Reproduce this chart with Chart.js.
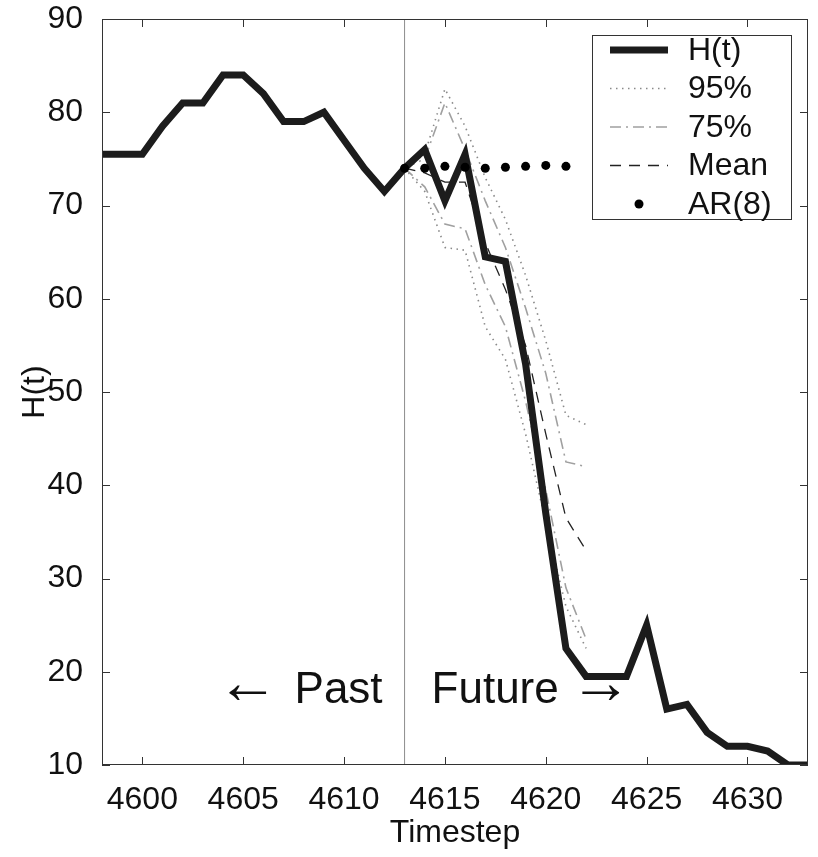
<!DOCTYPE html>
<html>
<head>
<meta charset="utf-8">
<script src="https://cdn.jsdelivr.net/npm/chart.js@4.4.0/dist/chart.umd.min.js"></script>
<style>
  html, body { margin: 0; padding: 0; background: #fff; }
</style>
</head>
<body>
<canvas id="chart" width="818" height="857"></canvas>
<script>
// observed series
const steps = [4598, 4599, 4600, 4601, 4602, 4603, 4604, 4605, 4606, 4607, 4608, 4609,
  4610, 4611, 4612, 4613, 4614, 4615, 4616, 4617, 4618, 4619, 4620, 4621, 4622, 4623,
  4624, 4625, 4626, 4627, 4628, 4629, 4630, 4631, 4632, 4633];
const hValues = [75.5, 75.5, 75.5, 78.5, 81, 81, 84, 84, 82, 79, 79, 80,
  77, 74, 71.5, 74, 76, 70.5, 75.5, 64.5, 64, 53, 37, 22.5, 19.5, 19.5,
  19.5, 25, 16, 16.5, 13.5, 12, 12, 11.5, 10, 10];

// forecasts from t = 4613
const forecastSteps = [4613, 4614, 4615, 4616, 4617, 4618, 4619, 4620, 4621, 4622];
const upper95 = [74, 75.5, 82.5, 78.5, 73, 68.5, 62.5, 55.5, 47.5, 46.5];
const upper75 = [74, 75, 81, 76, 70.5, 65.5, 59, 52, 42.5, 42];
const meanValues = [74, 73.5, 72.5, 72.5, 66, 61, 55, 45.5, 36.5, 33];
const lower75 = [74, 72, 68, 67.5, 61.5, 57, 49, 39.5, 29, 23.5];
const lower95 = [74, 71.5, 65.5, 65.2, 57, 53.5, 45.5, 36, 27, 22.5];

const arSteps = [4613, 4614, 4615, 4616, 4617, 4618, 4619, 4620, 4621];
const arValues = [74, 74, 74.2, 74.1, 74, 74.1, 74.2, 74.3, 74.2];

const nowStep = 4613;
const xTickValues = [4600, 4605, 4610, 4615, 4620, 4625, 4630];
const yTickValues = [10, 20, 30, 40, 50, 60, 70, 80, 90];

const FONT = '"Liberation Sans", Arial, Helvetica, sans-serif';

const pts = (xs, ys) => xs.map((x, i) => ({ x: x, y: ys[i] }));

const lineDefaults = { pointRadius: 0, fill: false, tension: 0 };

const datasets = [
  { label: 'AR(8)', data: pts(arSteps, arValues), showLine: false,
    pointRadius: 4.5, pointBackgroundColor: '#000', pointBorderWidth: 0, borderColor: '#000' },
  { ...lineDefaults, label: 'H(t)', data: pts(steps, hValues),
    borderColor: '#1c1c1c', borderWidth: 7 },
  { ...lineDefaults, label: 'Mean', data: pts(forecastSteps, meanValues),
    borderColor: '#222', borderWidth: 1.3, borderDash: [11, 8] },
  { ...lineDefaults, label: '75%', data: pts(forecastSteps, upper75),
    borderColor: '#a0a0a0', borderWidth: 1.6, borderDash: [11, 5, 2, 5] },
  { ...lineDefaults, label: '75% lo', data: pts(forecastSteps, lower75),
    borderColor: '#a0a0a0', borderWidth: 1.6, borderDash: [11, 5, 2, 5] },
  { ...lineDefaults, label: '95%', data: pts(forecastSteps, upper95),
    borderColor: '#8a8a8a', borderWidth: 1.6, borderDash: [1.5, 4.5] },
  { ...lineDefaults, label: '95% lo', data: pts(forecastSteps, lower95),
    borderColor: '#8a8a8a', borderWidth: 1.6, borderDash: [1.5, 4.5] },
  { ...lineDefaults, label: 'now', data: pts([nowStep, nowStep], [yTickValues[0], yTickValues[yTickValues.length - 1]]),
    borderColor: '#8c8c8c', borderWidth: 1 }
];

const legendOrder = ['H(t)', '95%', '75%', 'Mean', 'AR(8)'];

// box, inward ticks and the Past / Future note
const framePlugin = {
  id: 'frame',
  afterDatasetsDraw(chart) {
    const { ctx, chartArea: a, scales: { x, y } } = chart;
    ctx.save();
    ctx.strokeStyle = '#333';
    ctx.lineWidth = 1;
    ctx.strokeRect(a.left + 0.5, a.top + 0.5, a.right - a.left - 1, a.bottom - a.top - 1);
    ctx.beginPath();
    xTickValues.forEach(v => {
      const px = Math.round(x.getPixelForValue(v)) + 0.5;
      ctx.moveTo(px, a.bottom); ctx.lineTo(px, a.bottom - 8);
      ctx.moveTo(px, a.top); ctx.lineTo(px, a.top + 8);
    });
    yTickValues.forEach(v => {
      const py = Math.round(y.getPixelForValue(v)) + 0.5;
      ctx.moveTo(a.left, py); ctx.lineTo(a.left + 8, py);
      ctx.moveTo(a.right, py); ctx.lineTo(a.right - 8, py);
    });
    ctx.stroke();

    // Past / Future note; arrows set larger so they come out long and thin
    const nx = x.getPixelForValue(nowStep);
    const ny = y.getPixelForValue(18);
    ctx.fillStyle = '#111';
    ctx.textBaseline = 'middle';
    ctx.font = '44px ' + FONT;
    ctx.textAlign = 'right';
    ctx.fillText('Past', nx - 22, ny);
    ctx.textAlign = 'left';
    ctx.fillText('Future', nx + 27, ny);
    ctx.font = '62px ' + FONT;
    ctx.textAlign = 'right';
    ctx.fillText('\u2190', nx - 126, ny - 4);
    ctx.textAlign = 'left';
    ctx.fillText('\u2192', nx + 165, ny - 4);
    ctx.restore();
  },
  afterDraw(chart) {
    const { ctx, chartArea: a } = chart;
    const box = { left: a.right - 216, top: a.top + 16, right: a.right - 17, bottom: a.top + 200 };
    ctx.save();
    ctx.fillStyle = '#fff';
    ctx.fillRect(box.left, box.top, box.right - box.left, box.bottom - box.top);
    ctx.strokeStyle = '#333';
    ctx.lineWidth = 1;
    ctx.strokeRect(box.left + 0.5, box.top + 0.5, box.right - box.left, box.bottom - box.top);
    legendOrder.forEach((name, i) => {
      const ds = chart.data.datasets.find(d => d.label === name);
      const cy = box.top + 15 + i * 38.5;
      const x0 = box.left + 18, x1 = box.left + 76;
      if (ds.showLine === false) {
        ctx.fillStyle = ds.pointBackgroundColor;
        ctx.beginPath();
        ctx.arc((x0 + x1) / 2, cy, ds.pointRadius, 0, Math.PI * 2);
        ctx.fill();
      } else {
        ctx.strokeStyle = ds.borderColor;
        ctx.lineWidth = ds.borderWidth;
        ctx.setLineDash(ds.borderDash || []);
        ctx.beginPath();
        ctx.moveTo(x0, cy); ctx.lineTo(x1, cy);
        ctx.stroke();
        ctx.setLineDash([]);
      }
      ctx.fillStyle = '#111';
      ctx.font = '32px ' + FONT;
      ctx.textBaseline = 'middle';
      ctx.textAlign = 'left';
      ctx.fillText(name, box.left + 96, cy + 1);
    });
    ctx.restore();
  }
};

new Chart(document.getElementById('chart').getContext('2d'), {
  type: 'line',
  data: { datasets: datasets },
  plugins: [framePlugin],
  options: {
    responsive: false,
    animation: false,
    layout: { padding: { top: 19, right: 10, left: 0, bottom: 0 } },
    plugins: { legend: { display: false }, tooltip: { enabled: false } },
    scales: {
      x: {
        type: 'linear', min: 4598, max: 4633,
        afterBuildTicks: s => { s.ticks = xTickValues.map(v => ({ value: v })); },
        afterFit: s => { s.height = 92; s.paddingLeft = 0; s.paddingRight = 0; },
        grid: { display: false }, border: { display: false },
        ticks: { font: { family: FONT, size: 32 }, color: '#111', padding: 8,
          maxRotation: 0, autoSkip: false, callback: v => String(v) },
        title: { display: true, text: 'Timestep', color: '#111',
          font: { family: FONT, size: 32 }, padding: { top: 0, bottom: 5 } }
      },
      y: {
        type: 'linear', min: 10, max: 90,
        afterBuildTicks: s => { s.ticks = yTickValues.map(v => ({ value: v })); },
        afterFit: s => { s.width = 102; s.paddingTop = 0; s.paddingBottom = 0; },
        grid: { display: false }, border: { display: false },
        ticks: { font: { family: FONT, size: 32 }, color: '#111', padding: 11 },
        title: { display: true, text: 'H(t)', color: '#111',
          font: { family: FONT, size: 32 }, padding: { top: 16, bottom: 0 } }
      }
    }
  }
});
</script>
</body>
</html>
